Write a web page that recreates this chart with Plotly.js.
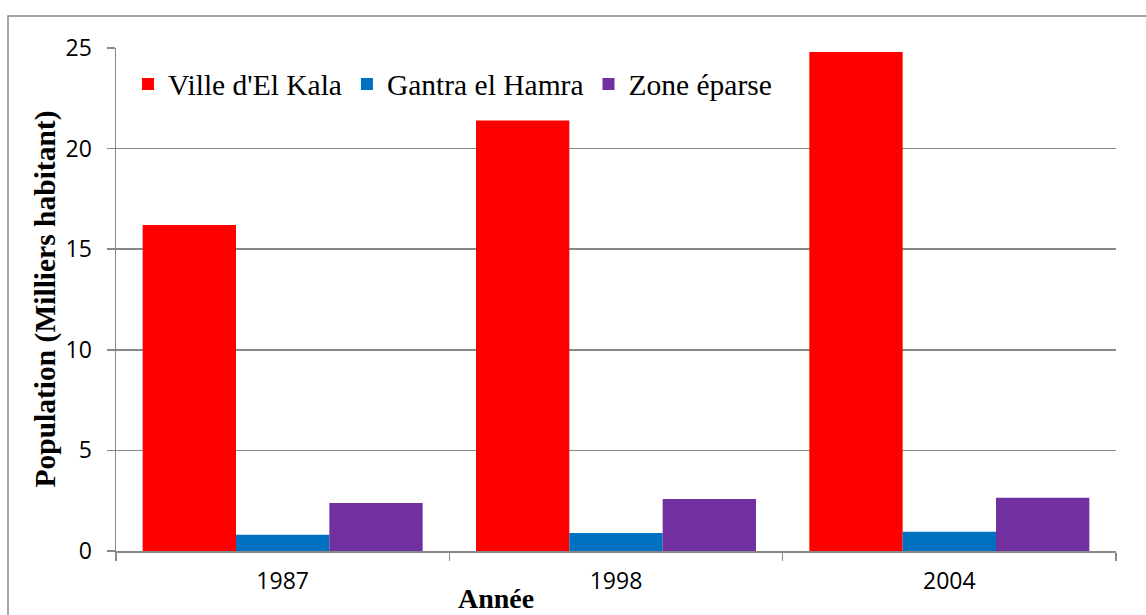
<!DOCTYPE html>
<html>
<head>
<meta charset="utf-8">
<script src="https://cdn.plot.ly/plotly-3.0.1.min.js"></script>
<style>html,body{margin:0;padding:0;background:#fff;}#chart{width:1146px;height:615px;}</style>
</head>
<body>
<div id="chart"></div>
<script>
const years = ["1987", "1998", "2004"];
const villeElKala = [16.2, 21.4, 24.8];
const gantraElHamra = [0.81, 0.9, 0.96];
const zoneEparse = [2.38, 2.58, 2.65];
const seriesNames = ["Ville d'El Kala", "Gantra el Hamra", "Zone éparse"];
const seriesColors = ["#FF0000", "#0070C0", "#7030A0"];
const yTickVals = [0, 5, 10, 15, 20, 25];

const gray = "#888888";
const serif = "'Liberation Serif', 'Times New Roman', serif";
const sans = "'Open Sans', 'Noto Sans', sans-serif";

const data = [villeElKala, gantraElHamra, zoneEparse].map((vals, i) => ({
  type: "bar",
  x: years,
  y: vals,
  name: seriesNames[i],
  marker: {color: seriesColors[i], line: {width: 0}},
  hoverinfo: "x+y+name"
}));

const layout = {
  width: 1146,
  height: 615,
  paper_bgcolor: "#ffffff",
  plot_bgcolor: "#ffffff",
  margin: {l: 116, r: 30, t: 48, b: 64},
  barmode: "group",
  bargap: 0.16,
  bargroupgap: 0,
  showlegend: true,
  legend: {
    orientation: "h",
    x: 0.012, xanchor: "left",
    y: 0.928, yanchor: "middle",
    font: {family: serif, size: 29.5, color: "#000"},
    bgcolor: "rgba(0,0,0,0)",
    traceorder: "normal"
  },
  xaxis: {
    type: "category",
    showline: true, linecolor: gray, linewidth: 1.5,
    ticks: "outside", tickson: "boundaries", ticklen: 8, tickcolor: gray, tickwidth: 1.5,
    showgrid: false, zeroline: false,
    tickfont: {family: sans, size: 23, color: "#000"},
    ticklabelstandoff: 9
  },
  yaxis: {
    range: [0, 25],
    tickvals: yTickVals,
    ticktext: yTickVals.map(String),
    showline: true, linecolor: gray, linewidth: 1.5,
    ticks: "outside", ticklen: 8, tickcolor: gray, tickwidth: 1.5,
    showgrid: true, gridcolor: gray, gridwidth: 1.5,
    zeroline: false,
    tickfont: {family: sans, size: 23, color: "#000"},
    ticklabelstandoff: 10
  },
  shapes: [{
    type: "rect", xref: "paper", yref: "paper",
    x0: -0.108, x1: 1.2, y0: -0.3, y1: 1.0636,
    line: {color: gray, width: 1.5}, fillcolor: "rgba(0,0,0,0)", layer: "below"
  }],
  annotations: [
    {
      text: "<b>Population (Milliers habitant)</b>",
      xref: "paper", yref: "paper", x: -0.071, y: 0.5,
      xanchor: "center", yanchor: "middle", textangle: -90, showarrow: false,
      font: {family: serif, size: 29.5, color: "#000"}
    },
    {
      text: "<b>Année</b>",
      xref: "paper", yref: "paper", x: 0.38, y: -0.094,
      xanchor: "center", yanchor: "middle", showarrow: false,
      font: {family: serif, size: 28, color: "#000"}
    }
  ]
};

Plotly.newPlot("chart", data, layout, {displayModeBar: false, staticPlot: true});
</script>
</body>
</html>
